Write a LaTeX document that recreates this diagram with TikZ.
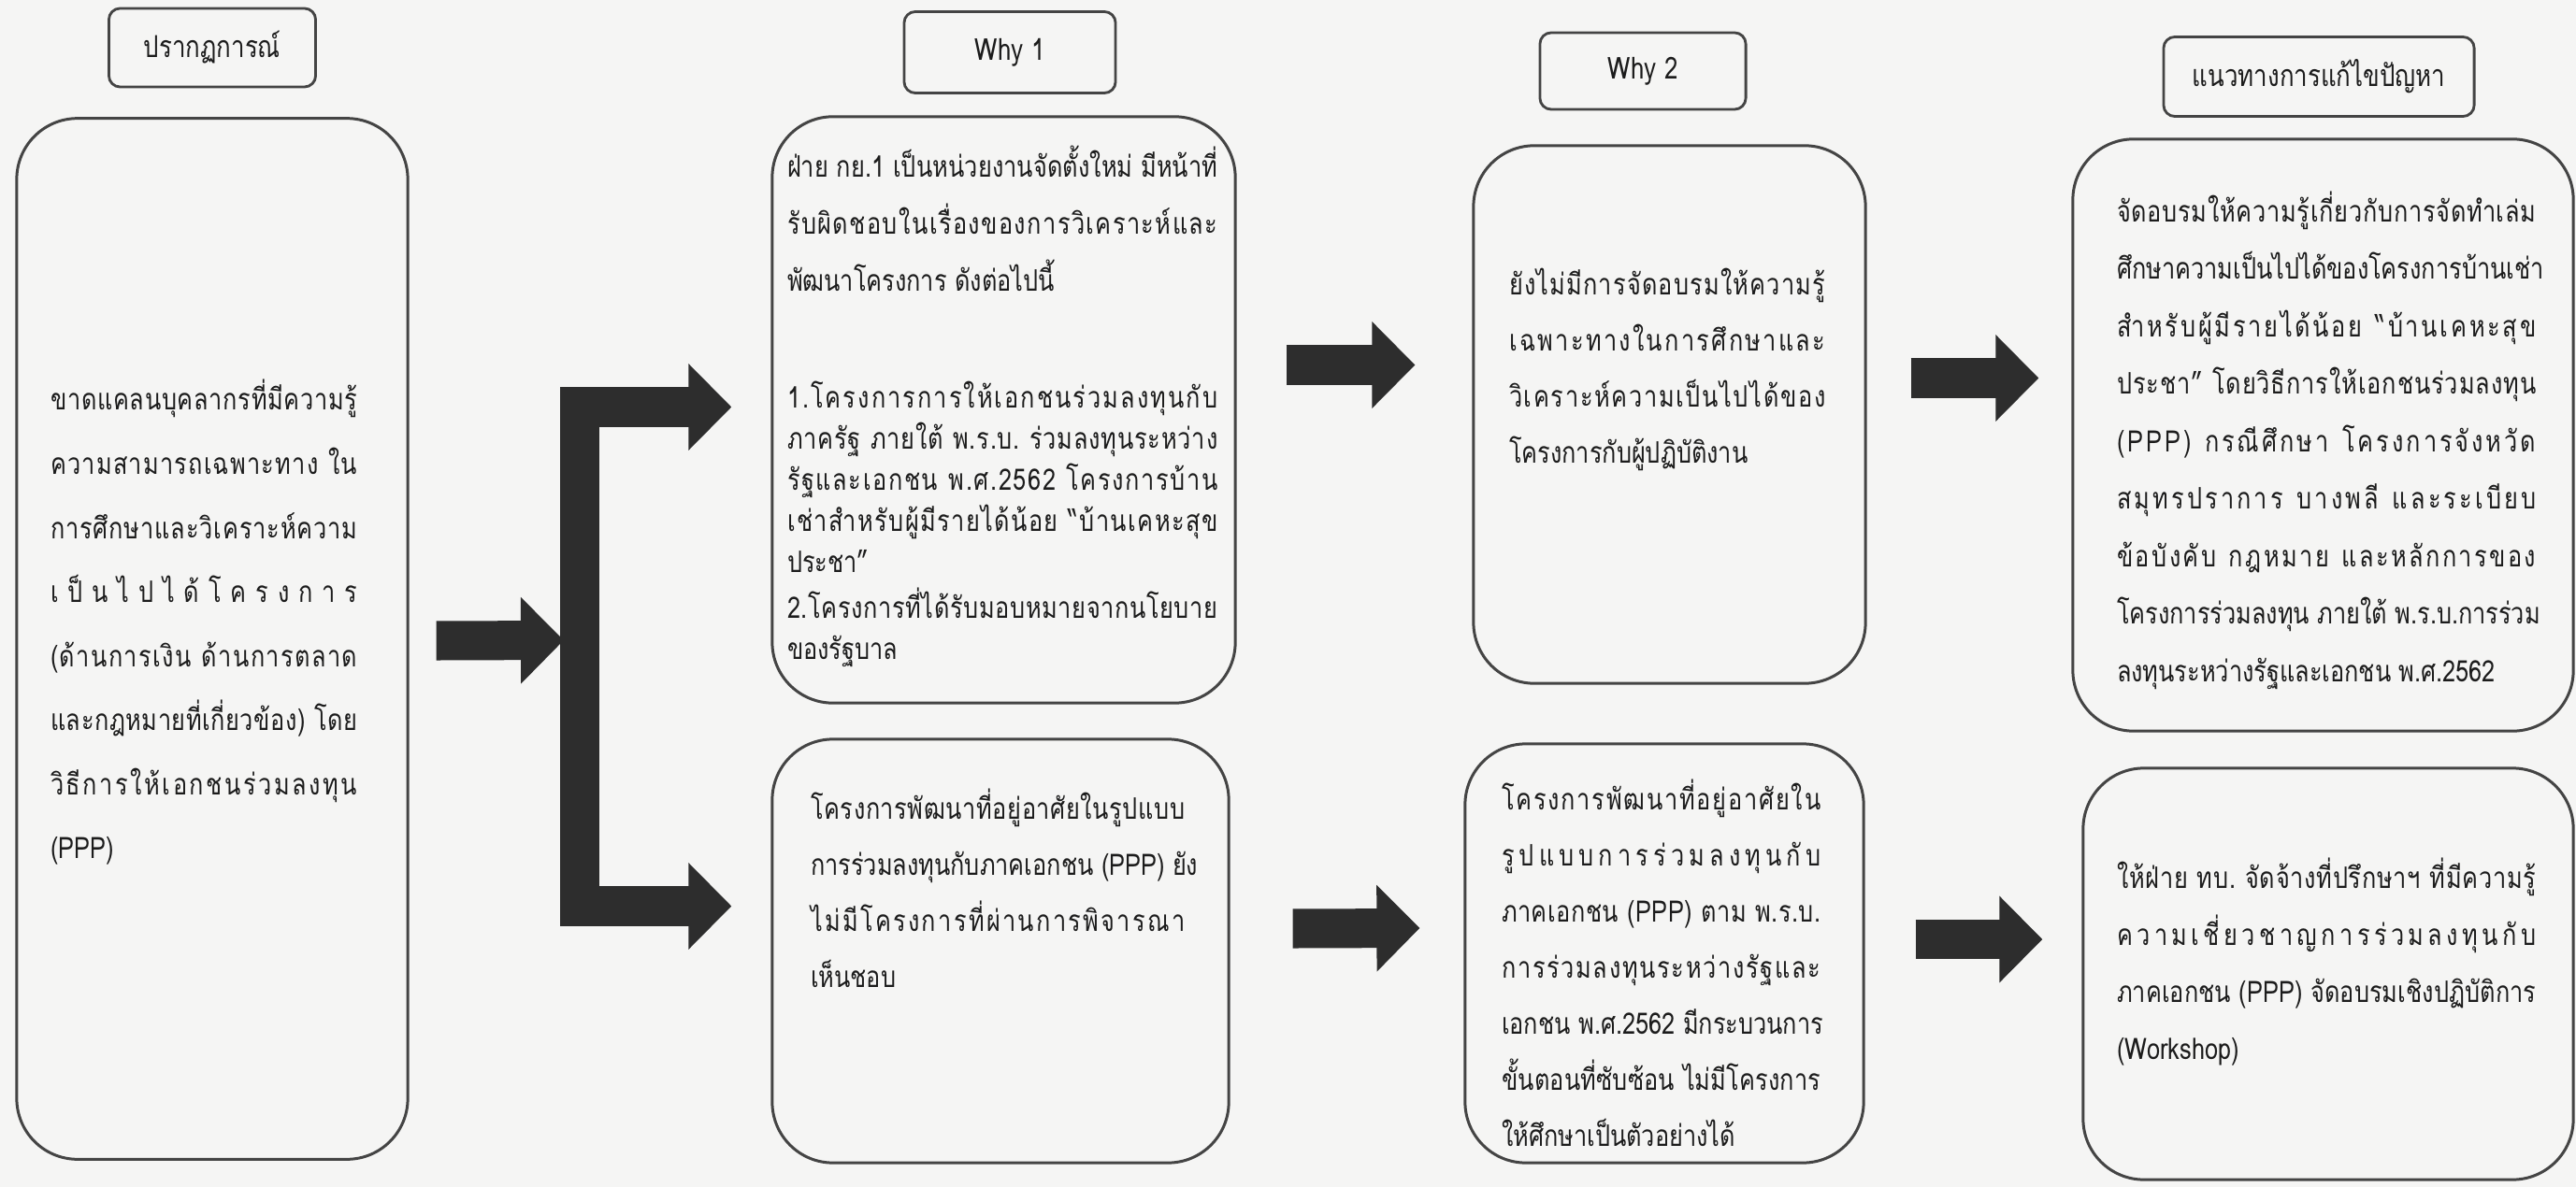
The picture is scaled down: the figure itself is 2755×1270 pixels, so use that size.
\documentclass[tikz,border=0pt]{standalone}
\usepackage{fontspec}
\usetikzlibrary{arrows.meta}
\newfontfamily\thaifont[Script=Thai,FakeStretch=0.8]{Loma}
\definecolor{paper}{RGB}{245,245,244}
\definecolor{edge}{RGB}{68,68,68}
\definecolor{ink}{RGB}{28,28,28}
\definecolor{arrowfill}{RGB}{45,45,45}

% spread a line over \sprw (Thai distributed justification)
\newlength\sprw
\newcommand\topstrut{\vrule height 4mm depth 0pt width 0pt}
\ExplSyntaxOn
\bool_new:N \l__spr_first_bool
\int_new:N \l__spr_int
\cs_new_protected:Npn \__spr_char:n #1
  {
    \str_if_eq:nnTF { #1 } { ~ }
      { \hskip \fontdimen2\font plus 1fil \scan_stop: }
      {
        \int_set:Nn \l__spr_int { `#1 }
        \bool_if:NTF \l__spr_first_bool
          { \bool_set_false:N \l__spr_first_bool }
          {
            \bool_if:nF
              {
                \int_compare_p:nNn \l__spr_int = { "0E31 }
                || ( \int_compare_p:nNn \l__spr_int > { "0E32 } && \int_compare_p:nNn \l__spr_int < { "0E3B } )
                || ( \int_compare_p:nNn \l__spr_int > { "0E46 } && \int_compare_p:nNn \l__spr_int < { "0E4F } )
              }
              { \hskip 0pt plus 1fil \scan_stop: }
          }
        #1
      }
  }
\cs_new_protected:Npn \spr #1
  {
    \hbox_to_wd:nn { \sprw }
      {
        \bool_set_true:N \l__spr_first_bool
        \str_map_inline:nn { #1 } { \__spr_char:n { ##1 } }
      }
  }
\ExplSyntaxOff

\begin{document}
\begin{tikzpicture}[x=0.01cm, y=-0.01cm,
  every node/.style={text=ink},
  headbox/.style={draw=edge, line width=0.8pt, rounded corners=0.12cm,
    font=\thaifont\fontsize{9.2pt}{11pt}\selectfont},
  mainbox/.style={draw=edge, line width=0.85pt, rounded corners=0.65cm},
  txt/.style 2 args={font=\thaifont\fontsize{9pt}{#1}\selectfont\setlength\sprw{#2},
    align=left, inner sep=0pt, anchor=north west},
  fatarrow/.style={draw=arrowfill, line width=0.42cm, -{Triangle[length=0.46cm,width=0.9cm]}}]

  \fill[paper] (0,0) rectangle (2755,1270);
  \useasboundingbox (0,0) rectangle (2755,1270);

  % column headings
  \node[headbox, minimum width=2.21cm, minimum height=0.84cm] (h0) at (227,51) {ปรากฏการณ์};
  \node[headbox, minimum width=2.26cm, minimum height=0.87cm] (h1) at (1080,56) {Why 1};
  \node[headbox, minimum width=2.20cm, minimum height=0.82cm] (h2) at (1757,76) {Why 2};
  \node[headbox, minimum width=3.32cm, minimum height=0.85cm] (h3) at (2480,82) {แนวทางการแก้ไขปัญหา};

  % boxes
  \node[mainbox, minimum width=4.18cm, minimum height=11.13cm] (prob) at (227,683.5) {};
  \node[mainbox, minimum width=4.95cm, minimum height=6.27cm] (w1top) at (1073.5,438.5) {};
  \node[mainbox, minimum width=4.88cm, minimum height=4.53cm] (w1bot) at (1070,1017.5) {};
  \node[mainbox, minimum width=4.19cm, minimum height=5.75cm] (w2top) at (1785.5,443.5) {};
  \node[mainbox, minimum width=4.26cm, minimum height=4.48cm] (w2bot) at (1780,1020) {};
  \node[mainbox, minimum width=5.35cm, minimum height=6.33cm] (fixtop) at (2484.5,465.5) {};
  \node[mainbox, minimum width=5.24cm, minimum height=4.40cm] (fixbot) at (2490,1042) {};

  % texts
  \node[txt={19.5pt}{3.28cm}] (probtxt) at ([shift={(37,273)}]prob.north west) {%
    \topstrut\spr{ขาดแคลนบุคลากรที่มีความรู้}\\
    \spr{ความสามารถเฉพาะทาง ใน}\\
    \spr{การศึกษาและวิเคราะห์ความ}\\
    \spr{เป็นไปได้โครงการ}\\
    \spr{(ด้านการเงิน ด้านการตลาด}\\
    \spr{และกฎหมายที่เกี่ยวข้อง) โดย}\\
    \spr{วิธีการให้เอกชนร่วมลงทุน}\\
    (PPP)};
  \node[txt={12.52pt}{4.6cm}] (w1toptxt) at ([shift={(17,25)}]w1top.north west) {%
    \topstrut\spr{ฝ่าย กย.1 เป็นหน่วยงานจัดตั้งใหม่ มีหน้าที่}\\[1.7mm]
    \spr{รับผิดชอบในเรื่องของการวิเคราะห์และ}\\[1.7mm]
    พัฒนาโครงการ ดังต่อไปนี้\\[8.1mm]
    \spr{1.โครงการการให้เอกชนร่วมลงทุนกับ}\\
    \spr{ภาครัฐ ภายใต้ พ.ร.บ. ร่วมลงทุนระหว่าง}\\
    \spr{รัฐและเอกชน พ.ศ.2562 โครงการบ้าน}\\
    \spr{เช่าสำหรับผู้มีรายได้น้อย “บ้านเคหะสุข}\\
    ประชา”\\[0.5mm]
    \spr{2.โครงการที่ได้รับมอบหมายจากนโยบาย}\\
    ของรัฐบาล};
  \node[txt={17.07pt}{4.0cm}] (w1bottxt) at ([shift={(42,46)}]w1bot.north west) {%
    \topstrut\spr{โครงการพัฒนาที่อยู่อาศัยในรูปแบบ}\\
    \spr{การร่วมลงทุนกับภาคเอกชน (PPP) ยัง}\\
    \spr{ไม่มีโครงการที่ผ่านการพิจารณา}\\
    เห็นชอบ};
  \node[txt={17.07pt}{3.38cm}] (w2toptxt) at ([shift={(39,120)}]w2top.north west) {%
    \topstrut\spr{ยังไม่มีการจัดอบรมให้ความรู้}\\
    \spr{เฉพาะทางในการศึกษาและ}\\
    \spr{วิเคราะห์ความเป็นไปได้ของ}\\
    โครงการกับผู้ปฏิบัติงาน};
  \node[txt={17.07pt}{3.41cm}] (w2bottxt) at ([shift={(40,31)}]w2bot.north west) {%
    \topstrut\spr{โครงการพัฒนาที่อยู่อาศัยใน}\\
    \spr{รูปแบบการร่วมลงทุนกับ}\\
    \spr{ภาคเอกชน (PPP) ตาม พ.ร.บ.}\\
    \spr{การร่วมลงทุนระหว่างรัฐและ}\\
    \spr{เอกชน พ.ศ.2562 มีกระบวนการ}\\
    \spr{ขั้นตอนที่ซับซ้อน ไม่มีโครงการ}\\
    ให้ศึกษาเป็นตัวอย่างได้};
  \node[txt={17.5pt}{4.48cm}] (fixtoptxt) at ([shift={(48,49)}]fixtop.north west) {%
    \topstrut\spr{จัดอบรมให้ความรู้เกี่ยวกับการจัดทำเล่ม}\\
    \spr{ศึกษาความเป็นไปได้ของโครงการบ้านเช่า}\\
    \spr{สำหรับผู้มีรายได้น้อย “บ้านเคหะสุข}\\
    \spr{ประชา” โดยวิธีการให้เอกชนร่วมลงทุน}\\
    \spr{(PPP) กรณีศึกษา โครงการจังหวัด}\\
    \spr{สมุทรปราการ บางพลี และระเบียบ}\\
    \spr{ข้อบังคับ กฎหมาย และหลักการของ}\\
    \spr{โครงการร่วมลงทุน ภายใต้ พ.ร.บ.การร่วม}\\
    ลงทุนระหว่างรัฐและเอกชน พ.ศ.2562};
  \node[txt={17.35pt}{4.48cm}] (fixbottxt) at ([shift={(37,89)}]fixbot.north west) {%
    \topstrut\spr{ให้ฝ่าย ทบ. จัดจ้างที่ปรึกษาฯ ที่มีความรู้}\\
    \spr{ความเชี่ยวชาญการร่วมลงทุนกับ}\\
    \spr{ภาคเอกชน (PPP) จัดอบรมเชิงปฏิบัติการ}\\
    (Workshop)};

  % arrows
  \coordinate (fork) at (603,685);
  \draw[fatarrow] ([shift={(29,2)}]prob.east) -- (fork);
  \draw[fatarrow, {Triangle[length=0.46cm,width=0.9cm]}-{Triangle[length=0.46cm,width=0.9cm]}]
    ([shift={(-42,-3)}]w1top.west) -- ++(-162,0) |- ([shift={(-42,-48)}]w1bot.west);
  \draw[fatarrow] ([shift={(53,-48)}]w1top.east) -- ([shift={(-61,-53)}]w2top.west);
  \draw[fatarrow] ([shift={(67,-24)}]w1bot.east) -- ([shift={(-47,-27)}]w2bot.west);
  \draw[fatarrow] ([shift={(47,-39)}]w2top.east) -- ([shift={(-35,-61)}]fixtop.west);
  \draw[fatarrow] ([shift={(54,-15)}]w2bot.east) -- ([shift={(-42,-37)}]fixbot.west);
\end{tikzpicture}
\end{document}
